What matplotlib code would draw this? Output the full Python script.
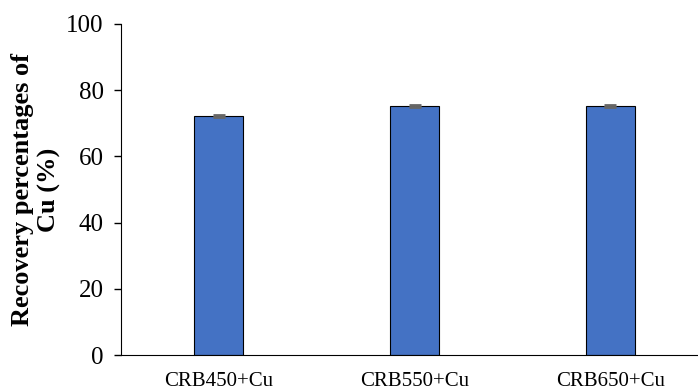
import matplotlib.pyplot as plt

categories = ["CRB450+Cu", "CRB550+Cu", "CRB650+Cu"]
recovery = [72.1, 75.2, 75.2]
errors = [0.3, 0.4, 0.4]

plt.rcParams["font.family"] = ["Liberation Serif", "DejaVu Serif"]

fig = plt.figure(figsize=(6.98, 3.9), dpi=100)
ax = fig.add_axes([121 / 698, 35 / 390, 587 / 698, 331 / 390])

x = [i + 0.5 for i in range(len(categories))]
ax.bar(x, recovery, width=0.25, color="#4472C4", edgecolor="black", linewidth=0.8,
       yerr=errors, error_kw=dict(ecolor="#666666", elinewidth=1, capsize=4.5, capthick=2))

ax.set_xlim(0, 3)
ax.set_ylim(0, 100)
ax.set_yticks([0, 20, 40, 60, 80, 100])
ax.set_xticks(x)
ax.set_xticklabels(categories, fontsize=15)
ax.tick_params(axis="x", length=0, pad=12)
ax.tick_params(axis="y", labelsize=18, length=5, direction="out", width=1, pad=7.5)
ax.spines["top"].set_visible(False)
ax.spines["right"].set_visible(False)
ax.set_ylabel("Recovery percentages of\nCu (%)", fontsize=19, fontweight="bold", labelpad=4,
              linespacing=1.15)

fig.savefig("out.png", dpi=100)
